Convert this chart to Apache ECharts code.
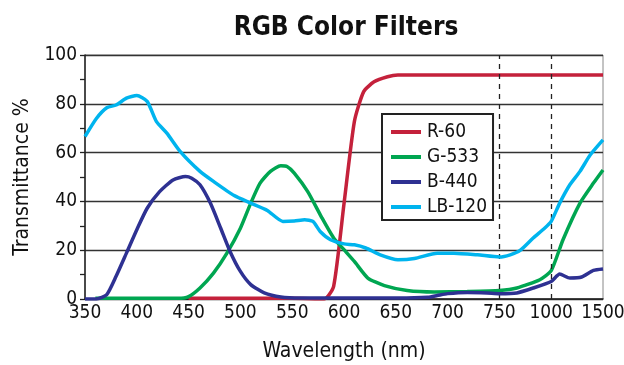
<!DOCTYPE html>
<html><head><meta charset="utf-8">
<script src="https://cdn.jsdelivr.net/npm/echarts@6/dist/echarts.min.js"></script>
<style>html,body{margin:0;padding:0;background:#fff}#c{width:624px;height:365px}</style>
</head><body><div id="c"></div>
<script>
const tickWl = [350, 400, 450, 500, 550, 600, 650, 700, 750, 1000, 1500];
const tickLabels = ['350','400','450','500','550','600','650','700','750','1000','1500'];
const dashedWl = [750, 1000];
const seriesNames = ['R-60', 'G-533', 'B-440', 'LB-120'];
const seriesColors = ['#c4213b', '#00a651', '#2e3192', '#00b4ee'];

const r60Wl = [450, 500, 550, 581, 590, 600, 610, 619, 629, 642, 652, 700, 750, 1000, 1500];
const r60T  = [0.3, 0.3, 0.3, 0, 5.2, 39, 72.7, 85, 89, 91.1, 91.8, 91.8, 91.8, 91.8, 91.8];

const g533Wl = [360, 400, 440, 450, 461, 474, 487, 500, 510, 519, 529, 539, 545, 552, 565, 578, 590, 600, 610, 623, 639, 661, 687, 719, 750, 834, 945, 1000, 1114, 1278, 1408, 1500];
const g533T  = [0.3, 0.3, 0.3, 1, 4.5, 10.6, 18.8, 29, 39.3, 47.5, 52.3, 54.6, 54.3, 51.6, 44, 33.8, 25, 20.2, 15.4, 8.6, 5.5, 3.5, 2.9, 3.1, 3.5, 4.5, 7.9, 11.6, 24.3, 39.3, 47.5, 52.9];

const b440Wl = [350, 361, 371, 380, 390, 400, 410, 422, 435, 447, 453, 461, 471, 481, 490, 500, 510, 523, 539, 558, 606, 652, 681, 690, 700, 719, 738, 750, 834, 913, 1000, 1082, 1180, 1294, 1408, 1500];
const b440T  = [0, 0, 1.8, 9.3, 18.8, 28.4, 37.2, 44, 48.8, 50.2, 49.5, 46.8, 39.3, 29, 19.5, 11.3, 5.9, 2.5, 0.8, 0.4, 0.4, 0.4, 0.7, 1.4, 2.2, 2.7, 2.5, 2.2, 2.5, 4.5, 7.2, 10.2, 8.6, 9, 11.7, 12.3];

const lb120Wl = [350, 361, 371, 380, 390, 400, 410, 419, 429, 442, 461, 474, 494, 510, 526, 541, 552, 562, 570, 577, 587, 600, 610, 621, 635, 652, 668, 690, 706, 729, 750, 802, 850, 913, 968, 1000, 1082, 1180, 1278, 1376, 1500];
const lb120T  = [66.6, 74, 78.4, 79.5, 82.3, 83.4, 81, 72.7, 68, 60.4, 52.3, 48.2, 42.4, 39.3, 36.3, 31.8, 32, 32.5, 31.8, 27.7, 24.3, 22.6, 22.2, 20.9, 18.1, 16.1, 16.6, 18.8, 18.8, 18.1, 17.2, 18.1, 19.9, 25, 29, 31.8, 39.3, 46.8, 52.3, 59, 65.2];

// map wavelength onto the broken (piecewise linear) axis defined by tickWl
function pos(w) {
  for (let i = 0; i < tickWl.length - 1; i++) {
    if (w <= tickWl[i + 1]) return i + (w - tickWl[i]) / (tickWl[i + 1] - tickWl[i]);
  }
  return tickWl.length - 1;
}
function pts(wl, t) { return wl.map((w, i) => [pos(w), t[i]]); }

const FONT = "'Liberation Sans Narrow', 'DejaVu Sans Condensed', sans-serif";
const allData = [pts(r60Wl, r60T), pts(g533Wl, g533T), pts(b440Wl, b440T), pts(lb120Wl, lb120T)];

const series = seriesNames.map((n, i) => ({
  name: n, type: 'line', data: allData[i], showSymbol: false, smooth: 0.2,
  lineStyle: { color: seriesColors[i], width: 3.5 }, itemStyle: { color: seriesColors[i] },
  z: 3 + i
}));
series[0].markLine = {
  silent: true, symbol: 'none', label: { show: false },
  lineStyle: { color: '#222', type: [5, 5], width: 1.3 },
  data: dashedWl.map(w => ({ xAxis: pos(w) }))
};

const chart = echarts.init(document.getElementById('c'));
chart.setOption({
  animation: false,
  title: { text: 'RGB Color Filters', left: 341, top: 10, textAlign: 'center',
    textStyle: { fontFamily: FONT, fontWeight: 'bold', fontSize: 26, color: '#111' } },
  grid: { left: 85, right: 21, top: 55, bottom: 66, show: true, borderColor: '#888', borderWidth: 1,
    outerBoundsMode: 'none', containLabel: false },
  legend: {
    data: seriesNames, orient: 'vertical', left: 382, top: 114,
    padding: [8, 6, 3, 9], itemGap: 5, itemWidth: 30, itemHeight: 4, icon: 'rect',
    backgroundColor: '#fff', borderColor: '#222', borderWidth: 2,
    textStyle: { fontFamily: FONT, fontSize: 19, lineHeight: 20, color: '#111', padding: [0, 0, 0, 1] }
  },
  xAxis: {
    type: 'value', min: 0, max: tickWl.length - 1, interval: 1,
    name: 'Wavelength (nm)', nameLocation: 'middle', nameGap: 42,
    nameTextStyle: { fontFamily: FONT, fontSize: 21, color: '#111' },
    axisLine: { show: true, lineStyle: { color: '#222', width: 1.5 } },
    axisTick: { show: false },
    splitLine: { show: false },
    axisLabel: { formatter: v => tickLabels[v], fontFamily: FONT, fontSize: 19, color: '#111', margin: 5 }
  },
  yAxis: {
    type: 'value', min: 0, max: 100, interval: 20,
    name: 'Transmittance %', nameLocation: 'middle', nameGap: 52, nameRotate: 90,
    nameTextStyle: { fontFamily: FONT, fontSize: 21, color: '#111' },
    axisLine: { show: true, lineStyle: { color: '#222', width: 1.5 } },
    axisTick: { show: true, length: 5, lineStyle: { color: '#222', width: 1.3 } },
    minorTick: { show: true, splitNumber: 2, length: 5, lineStyle: { color: '#222', width: 1.3 } },
    splitLine: { show: true, lineStyle: { color: '#333', width: 1.3 } },
    axisLabel: { fontFamily: FONT, fontSize: 19, color: '#111', margin: 8 }
  },
  series: series
});
</script></body></html>
